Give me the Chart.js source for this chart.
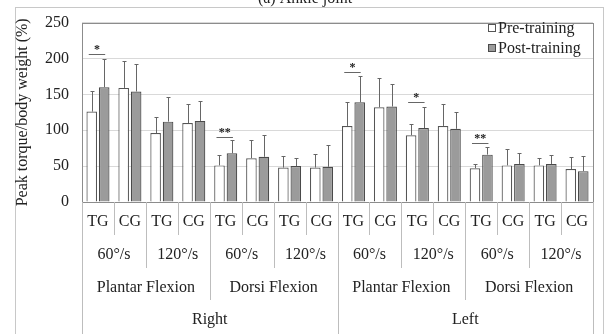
<!DOCTYPE html>
<html>
<head>
<meta charset="utf-8">
<script src="https://cdn.jsdelivr.net/npm/chart.js@4.4.1/dist/chart.umd.min.js"></script>
<style>
  html, body { margin: 0; padding: 0; background: #fff; }
  #wrap { position: relative; width: 608px; height: 334px; }
</style>
</head>
<body>
<div id="wrap"><canvas id="chart" width="608" height="334"></canvas></div>
<script>
// categories, bottom to top of the label hierarchy
const groups = ["TG", "CG", "TG", "CG", "TG", "CG", "TG", "CG", "TG", "CG", "TG", "CG", "TG", "CG", "TG", "CG"];
const speeds = ["60°/s", "120°/s", "60°/s", "120°/s", "60°/s", "120°/s", "60°/s", "120°/s"];
const movements = ["Plantar Flexion", "Dorsi Flexion", "Plantar Flexion", "Dorsi Flexion"];
const sides = ["Right", "Left"];

// peak torque / body weight (%), mean and SD
const preMean = [126, 159, 96, 110, 51, 61, 48, 48, 106, 132, 93, 106, 47, 51, 51, 46];
const preSD = [29, 37, 23, 27, 14, 25, 16, 19, 33, 41, 15, 31, 6, 23, 11, 17];
const postMean = [160, 154, 112, 113, 68, 63, 50, 49, 139, 133, 103, 102, 66, 53, 53, 43];
const postSD = [39, 38, 34, 28, 18, 30, 11, 30, 36, 32, 30, 24, 10, 15, 12, 21];

// significance markers
const sigIndex = [0, 4, 8, 10, 12];
const sigMark = ["*", "**", "*", "*", "**"];
const sigLevel = [206, 90, 181, 139, 82];

const yTicks = [0, 50, 100, 150, 200, 250];

const SERIF = "'Liberation Serif', 'DejaVu Serif', serif";
const TEXT = "#222";

const framePlugin = {
  id: "frame",
  beforeDraw(chart) {
    const c = chart.ctx;
    c.save();
    c.fillStyle = "#fff";
    c.fillRect(0, 0, chart.width, chart.height);
    c.strokeStyle = "#c8c8c8";
    c.lineWidth = 1;
    c.strokeRect(15.5, 7.5, 588, 340);
    // title, mostly cropped off at the top
    c.fillStyle = TEXT;
    c.font = "16px " + SERIF;
    c.textAlign = "center";
    c.textBaseline = "alphabetic";
    c.fillText("(a) Ankle joint", 305, 3);
    c.restore();
  },
  afterDraw(chart) {
    const { ctx: c, chartArea: a } = chart;
    c.save();
    c.strokeStyle = "#8c8c8c";
    c.lineWidth = 1;
    c.strokeRect(Math.round(a.left) + 0.5, Math.round(a.top) + 0.5,
      Math.round(a.right - a.left), Math.round(a.bottom - a.top));
    c.restore();
  },
};

const errorBarPlugin = {
  id: "errorBars",
  afterDatasetsDraw(chart) {
    const c = chart.ctx;
    const y = chart.scales.y;
    const sds = [preSD, postSD];
    const means = [preMean, postMean];
    c.save();
    c.strokeStyle = "#666";
    c.lineWidth = 1;
    [0, 1].forEach((d) => {
      chart.getDatasetMeta(d).data.forEach((bar, i) => {
        const x = Math.round(bar.x) + 0.5;
        const y0 = y.getPixelForValue(means[d][i]);
        const y1 = Math.round(y.getPixelForValue(means[d][i] + sds[d][i])) + 0.5;
        c.beginPath();
        c.moveTo(x, y0);
        c.lineTo(x, y1);
        c.moveTo(x - 2, y1);
        c.lineTo(x + 2, y1);
        c.stroke();
      });
    });
    // significance
    c.fillStyle = TEXT;
    c.font = "bold 12px " + SERIF;
    c.textAlign = "center";
    c.textBaseline = "alphabetic";
    sigIndex.forEach((idx, k) => {
      const x0 = chart.getDatasetMeta(0).data[idx].x - 3;
      const x1 = chart.getDatasetMeta(1).data[idx].x + 1;
      const ly = Math.round(y.getPixelForValue(sigLevel[k])) + 0.5;
      c.beginPath();
      c.moveTo(x0, ly);
      c.lineTo(x1, ly);
      c.stroke();
      c.fillText(sigMark[k], (x0 + x1) / 2, ly - 2);
    });
    c.restore();
  },
};

const xLabelPlugin = {
  id: "xLabels",
  afterDraw(chart) {
    const c = chart.ctx;
    const x = chart.scales.x;
    const a = chart.chartArea;
    const n = groups.length;
    const w = (a.right - a.left) / n;
    const bottom = chart.height;
    c.save();
    c.strokeStyle = "#bdbdbd";
    c.lineWidth = 1;
    for (let i = 0; i <= n; i++) {
      let end = 235;
      if (i % 8 === 0) end = bottom;
      else if (i % 4 === 0) end = 300;
      else if (i % 2 === 0) end = 268;
      const px = Math.round(a.left + i * w) + 0.5;
      c.beginPath();
      c.moveTo(px, a.bottom);
      c.lineTo(px, end);
      c.stroke();
    }
    c.fillStyle = TEXT;
    c.font = "16px " + SERIF;
    c.textAlign = "center";
    c.textBaseline = "middle";
    const rows = [[groups, 222], [speeds, 255], [movements, 288], [sides, 320]];
    rows.forEach(([labels, ty]) => {
      const span = n / labels.length;
      labels.forEach((t, j) => {
        const first = x.getPixelForValue(j * span);
        const last = x.getPixelForValue(j * span + span - 1);
        c.fillText(t, (first + last) / 2, ty);
      });
    });
    c.restore();
  },
};

const legendPlugin = {
  id: "boxLegend",
  afterDraw(chart) {
    const c = chart.ctx;
    c.save();
    c.font = "16px " + SERIF;
    c.textBaseline = "middle";
    c.textAlign = "left";
    chart.data.datasets.forEach((ds, i) => {
      const cy = 28 + i * 20;
      c.fillStyle = ds.backgroundColor;
      c.fillRect(488, cy - 4, 8, 8);
      c.strokeStyle = ds.borderColor;
      c.strokeRect(488.5, cy - 3.5, 7, 7);
      c.fillStyle = TEXT;
      c.fillText(ds.label, 498, cy + 1);
    });
    c.restore();
  },
};

new Chart(document.getElementById("chart").getContext("2d"), {
  type: "bar",
  data: {
    labels: groups,
    datasets: [
      {
        label: "Pre-training",
        data: preMean,
        backgroundColor: "#ffffff",
        borderColor: "#555555",
        borderWidth: 1.2,
        categoryPercentage: 0.78,
        barPercentage: 0.85,
      },
      {
        label: "Post-training",
        data: postMean,
        backgroundColor: "#9b9b9b",
        borderColor: "#4a4a4a",
        borderWidth: 1.2,
        categoryPercentage: 0.78,
        barPercentage: 0.85,
      },
    ],
  },
  options: {
    responsive: false,
    animation: false,
    layout: { padding: { left: 13, top: 20, right: 15, bottom: 132 } },
    plugins: {
      legend: { display: false },
      tooltip: { enabled: false },
    },
    scales: {
      x: { display: false },
      y: {
        min: 0,
        max: 250,
        afterBuildTicks: (s) => { s.ticks = yTicks.map((v) => ({ value: v })); },
        afterFit: (s) => { s.width = 69; },
        ticks: { color: TEXT, font: { family: SERIF, size: 16 }, padding: 13 },
        grid: { color: "#d9d9d9", drawTicks: false },
        border: { display: false },
        title: {
          display: true,
          text: "Peak torque/body weight (%)",
          color: TEXT,
          font: { family: SERIF, size: 16 },
          padding: 0,
        },
      },
    },
  },
  plugins: [framePlugin, errorBarPlugin, xLabelPlugin, legendPlugin],
});
</script>
</body>
</html>
